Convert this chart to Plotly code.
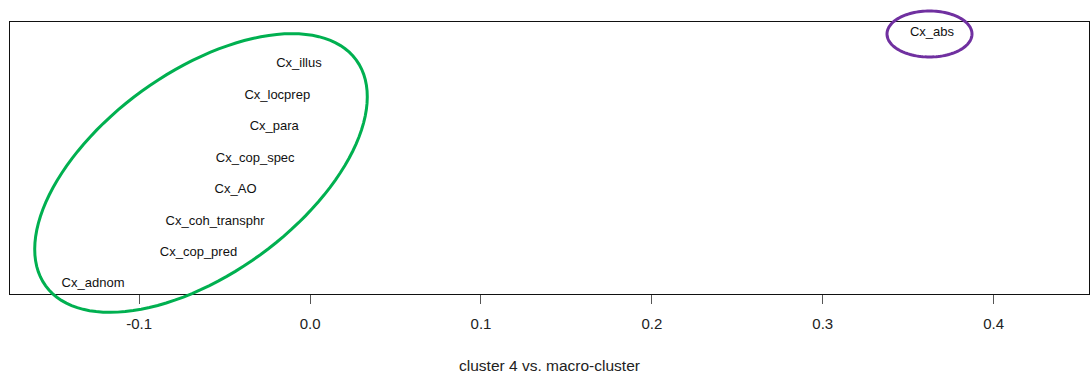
import numpy as np
import plotly.graph_objects as go

# Construction labels, placed by their score on "cluster 4 vs. macro-cluster"
labels = ["Cx_adnom", "Cx_cop_pred", "Cx_coh_transphr", "Cx_AO", "Cx_cop_spec",
          "Cx_para", "Cx_locprep", "Cx_illus", "Cx_abs"]
scores = [-0.127, -0.0653, -0.0556, -0.0436, -0.0321, -0.021, -0.0192, -0.0065, 0.3639]
ranks = [1, 2, 3, 4, 5, 6, 7, 8, 9]

tick_vals = [-0.1, 0.0, 0.1, 0.2, 0.3, 0.4]
tick_text = ["-0.1", "0.0", "0.1", "0.2", "0.3", "0.4"]

W, H = 1091, 374
ML, MR, MT, MB = 10, 2, 22, 80
PW, PH = W - ML - MR, H - MT - MB


def ellipse_path(cx, cy, a, b, angle_deg, n=120):
    """Closed SVG path (paper coords) for an ellipse given in pixel terms."""
    th = np.deg2rad(angle_deg)
    t = np.linspace(0, 2 * np.pi, n, endpoint=False)
    px = cx + a * np.cos(t) * np.cos(th) - b * np.sin(t) * np.sin(th)
    py = cy - (a * np.cos(t) * np.sin(th) + b * np.sin(t) * np.cos(th))
    ux = (px - ML) / PW
    uy = (MT + PH - py) / PH
    pts = [f"{x:.5f},{y:.5f}" for x, y in zip(ux, uy)]
    return "M" + " L".join(pts) + " Z"


fig = go.Figure(go.Scatter(
    x=scores, y=ranks, text=labels, mode="text",
    textposition="middle center",
    textfont=dict(family="Liberation Sans, Arial, sans-serif", size=13, color="#111111"),
    hoverinfo="text", cliponaxis=False,
))

shapes = [
    dict(type="path", xref="paper", yref="paper",
         path=ellipse_path(201, 173, 192, 101, 36),
         line=dict(color="#00B050", width=3)),
    dict(type="path", xref="paper", yref="paper",
         path=ellipse_path(929.5, 34, 42.5, 23, 0),
         line=dict(color="#7030A0", width=3)),
]

fig.update_layout(
    width=W, height=H,
    margin=dict(l=ML, r=MR, t=MT, b=MB),
    paper_bgcolor="white", plot_bgcolor="white",
    showlegend=False,
    shapes=shapes,
    font=dict(family="Liberation Sans, Arial, sans-serif", color="#222222"),
    xaxis=dict(
        range=[-0.1756, 0.4558],
        tickvals=tick_vals, ticktext=tick_text,
        ticks="outside", ticklen=9, tickcolor="#555555", tickwidth=1,
        tickfont=dict(size=15, color="#222222"),
        ticklabelstandoff=7,
        showgrid=False, zeroline=False,
        showline=True, linecolor="#111111", linewidth=1, mirror=True,
        title=dict(text="cluster 4 vs. macro-cluster", font=dict(size=15.5, color="#222222"),
                   standoff=29),
    ),
    yaxis=dict(
        range=[0.69, 9.33],
        showticklabels=False, ticks="", showgrid=False, zeroline=False,
        showline=True, linecolor="#111111", linewidth=1, mirror=True,
    ),
)

fig.write_html("out.html")
